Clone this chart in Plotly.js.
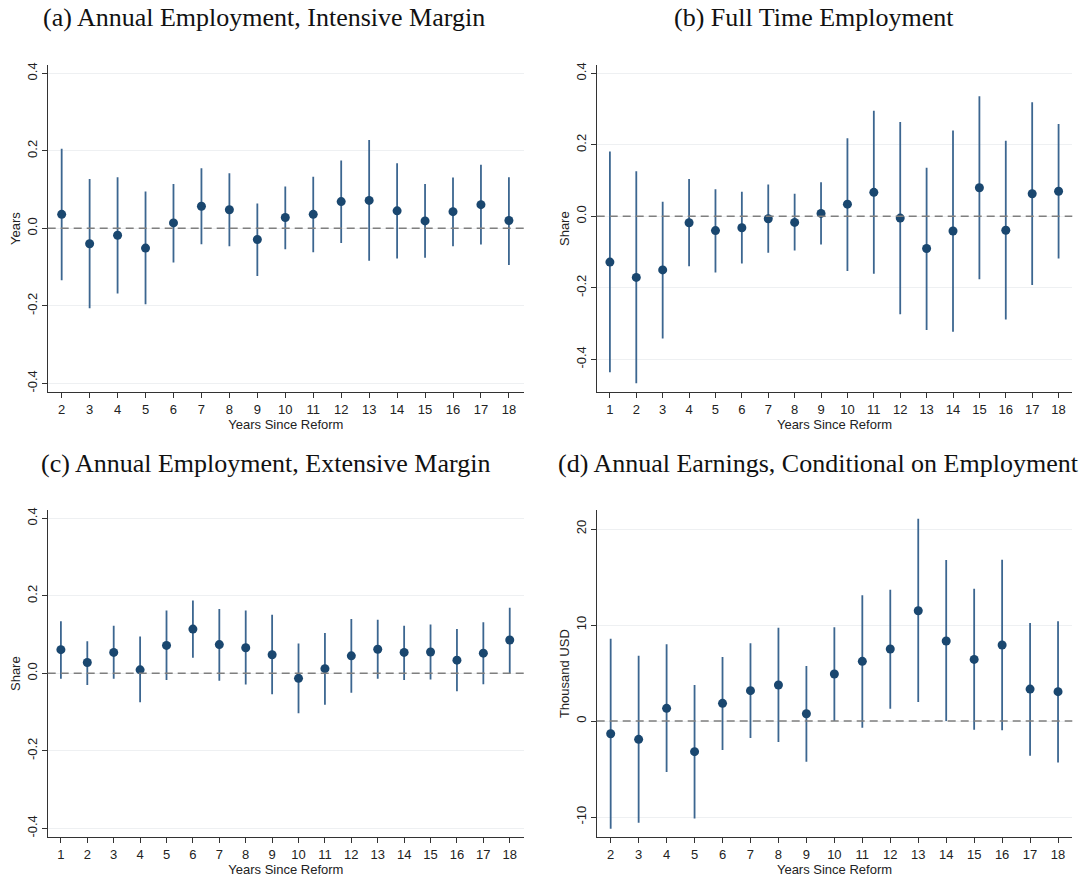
<!DOCTYPE html>
<html>
<head>
<meta charset="utf-8">
<script src="https://cdn.plot.ly/plotly-3.0.1.min.js"></script>
<style>html,body{margin:0;padding:0;background:#fff;}#chart{width:1090px;height:879px;}</style>
</head>
<body>
<div id="chart"></div>
<script>
// Panel (a): Annual Employment, Intensive Margin
const yearsA = [2,3,4,5,6,7,8,9,10,11,12,13,14,15,16,17,18];
const estA = [0.036,-0.040,-0.018,-0.051,0.014,0.057,0.048,-0.029,0.028,0.036,0.069,0.072,0.045,0.019,0.043,0.061,0.020];
const loA  = [-0.134,-0.206,-0.168,-0.196,-0.088,-0.041,-0.046,-0.123,-0.054,-0.062,-0.038,-0.084,-0.078,-0.076,-0.046,-0.042,-0.095];
const hiA  = [0.205,0.127,0.132,0.095,0.114,0.155,0.142,0.064,0.108,0.133,0.175,0.228,0.168,0.114,0.131,0.164,0.132];

// Panel (b): Full Time Employment
const yearsB = [1,2,3,4,5,6,7,8,9,10,11,12,13,14,15,16,17,18];
const estB = [-0.128,-0.171,-0.150,-0.018,-0.040,-0.032,-0.007,-0.017,0.008,0.034,0.067,-0.005,-0.090,-0.041,0.080,-0.039,0.063,0.070];
const loB  = [-0.436,-0.467,-0.342,-0.140,-0.157,-0.132,-0.102,-0.096,-0.079,-0.153,-0.161,-0.274,-0.318,-0.323,-0.176,-0.289,-0.192,-0.118];
const hiB  = [0.181,0.126,0.041,0.104,0.076,0.069,0.089,0.063,0.095,0.218,0.295,0.264,0.136,0.240,0.336,0.211,0.319,0.258];

// Panel (c): Annual Employment, Extensive Margin
const yearsC = [1,2,3,4,5,6,7,8,9,10,11,12,13,14,15,16,17,18];
const estC = [0.061,0.028,0.054,0.009,0.072,0.114,0.074,0.066,0.048,-0.013,0.012,0.045,0.062,0.054,0.055,0.034,0.052,0.086];
const loC  = [-0.014,-0.030,-0.014,-0.075,-0.017,0.040,-0.019,-0.029,-0.054,-0.103,-0.081,-0.050,-0.014,-0.017,-0.016,-0.046,-0.028,0.000];
const hiC  = [0.134,0.083,0.123,0.095,0.162,0.188,0.166,0.162,0.151,0.077,0.104,0.140,0.138,0.123,0.126,0.114,0.132,0.169];

// Panel (d): Annual Earnings, Conditional on Employment (thousand USD)
const yearsD = [2,3,4,5,6,7,8,9,10,11,12,13,14,15,16,17,18];
const estD = [-1.32,-1.91,1.32,-3.19,1.84,3.16,3.75,0.76,4.90,6.22,7.50,11.49,8.33,6.42,7.92,3.33,3.06];
const loD  = [-11.22,-10.6,-5.31,-10.14,-3.02,-1.77,-2.19,-4.24,0.0,-0.69,1.28,1.98,0.0,-0.90,-0.97,-3.61,-4.31];
const hiD  = [8.58,6.8,7.99,3.75,6.67,8.09,9.72,5.73,9.76,13.09,13.68,21.08,16.77,13.78,16.81,10.21,10.38];

const panelTitles = ["(a) Annual Employment, Intensive Margin","(b) Full Time Employment",
  "(c) Annual Employment, Extensive Margin","(d) Annual Earnings, Conditional on Employment"];
const yTitles = ["Years","Share","Share","Thousand USD"];
const xTitle = "Years Since Reform";
const shareTicks = [-0.4,-0.2,0,0.2,0.4];
const usdTicks = [-10,0,10,20];

const W = 1090, H = 879;
const markerColor = '#1a476f';
const barColor = '#3c6690';

function trace(x, est, lo, hi, ax) {
  return {
    type: 'scatter', mode: 'markers', x: x, y: est,
    xaxis: 'x' + ax, yaxis: 'y' + ax,
    marker: {color: markerColor, size: 9},
    error_y: {type: 'data', symmetric: false,
      array: hi.map((h, i) => h - est[i]),
      arrayminus: lo.map((l, i) => est[i] - l),
      width: 0, thickness: 1.8, color: barColor},
    showlegend: false, hoverinfo: 'x+y'
  };
}

const data = [
  trace(yearsA, estA, loA, hiA, ''),
  trace(yearsB, estB, loB, hiB, '2'),
  trace(yearsC, estC, loC, hiC, '3'),
  trace(yearsD, estD, loD, hiD, '4')
];

const tickFont = {family: 'Liberation Sans, Arial, sans-serif', size: 13, color: '#222'};
function xax(domPx, range, years, anchor) {
  return {
    domain: [domPx[0] / W, domPx[1] / W], range: range, anchor: anchor,
    tickmode: 'array', tickvals: years, ticktext: years.map(String),
    ticks: 'outside', ticklen: 5, tickcolor: '#333', tickwidth: 1,
    showline: true, linecolor: '#333', linewidth: 1, showgrid: false, zeroline: false,
    tickfont: tickFont,
    title: {text: xTitle, font: tickFont, standoff: 0}
  };
}
function yax(domPx, range, ticks, fmt, title, anchor) {
  return {
    domain: [1 - domPx[1] / H, 1 - domPx[0] / H], range: range, anchor: anchor,
    tickmode: 'array', tickvals: ticks, ticktext: ticks.map(v => fmt(v)),
    tickangle: -90,
    ticks: 'outside', ticklen: 5, tickcolor: '#333', tickwidth: 1,
    showline: true, linecolor: '#333', linewidth: 1,
    showgrid: true, gridcolor: '#eef0f2', gridwidth: 1, zeroline: false,
    tickfont: tickFont,
    title: {text: title, font: tickFont, standoff: 0}
  };
}
const f1 = v => v.toFixed(1);
const f0 = v => String(v);

const colL = [47.7, 524], colR = [596.7, 1072.3];
const rowT = [65, 392.3], rowB = [510, 837.3];

const zeroLine = (ax) => ({type: 'line', xref: 'x' + ax + ' domain', x0: 0, x1: 1,
  yref: 'y' + ax, y0: 0, y1: 0, line: {color: '#7f7f7f', width: 1.5, dash: '8px,5px'}, layer: 'above'});

const titleFont = {family: 'Liberation Serif, Times New Roman, serif', size: 26, color: '#111'};
const layout = {
  width: W, height: H,
  margin: {l: 0, r: 0, t: 0, b: 0},
  paper_bgcolor: '#fff', plot_bgcolor: '#fff',
  xaxis: xax(colL, [1.5, 18.54], yearsA, 'y'),
  yaxis: yax(rowT, [-0.4232, 0.4214], shareTicks, f1, yTitles[0], 'x'),
  xaxis2: xax(colR, [0.5, 18.52], yearsB, 'y2'),
  yaxis2: yax(rowT, [-0.4923, 0.4232], shareTicks, f1, yTitles[1], 'x2'),
  xaxis3: xax(colL, [0.5, 18.54], yearsC, 'y3'),
  yaxis3: yax(rowB, [-0.4232, 0.4214], shareTicks, f1, yTitles[2], 'x3'),
  xaxis4: xax(colR, [1.5, 18.51], yearsD, 'y4'),
  yaxis4: yax(rowB, [-12.11, 21.98], usdTicks, f0, yTitles[3], 'x4'),
  shapes: [zeroLine(''), zeroLine('2'), zeroLine('3'), zeroLine('4')],
  annotations: [
    {text: panelTitles[0], x: 264 / W, y: 1 - 18 / H},
    {text: panelTitles[1], x: 814 / W, y: 1 - 18 / H},
    {text: panelTitles[2], x: 265 / W, y: 1 - 463 / H},
    {text: panelTitles[3], x: 818 / W, y: 1 - 463 / H}
  ].map(a => Object.assign(a, {xref: 'paper', yref: 'paper', xanchor: 'center', yanchor: 'middle',
    showarrow: false, font: titleFont}))
};

Plotly.newPlot('chart', data, layout, {staticPlot: true, displayModeBar: false});
</script>
</body>
</html>
